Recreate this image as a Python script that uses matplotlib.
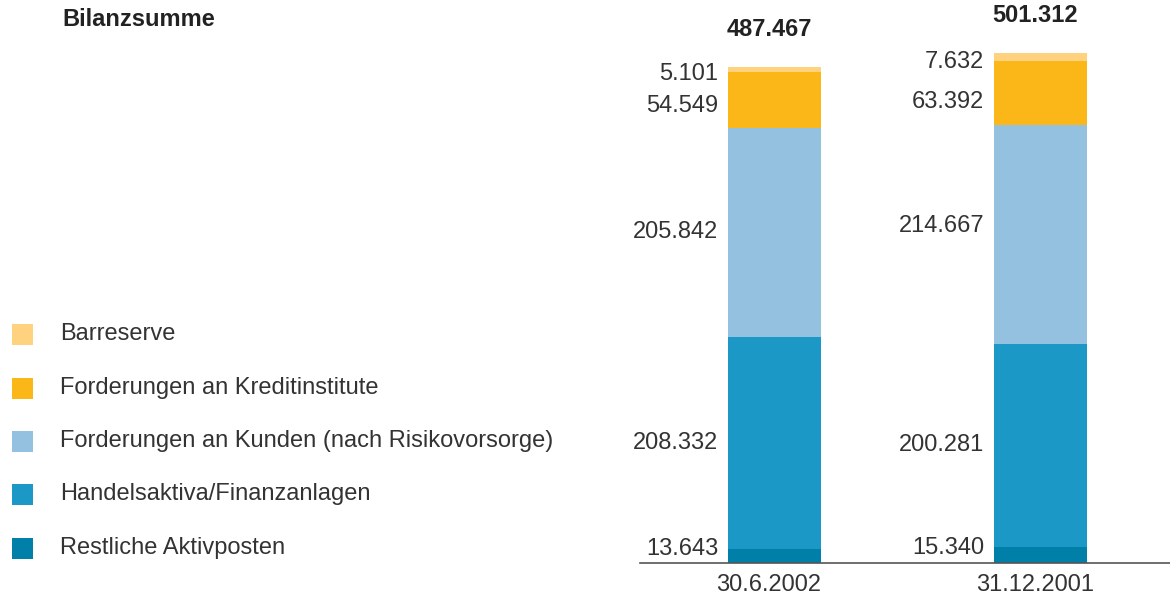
import numpy as np
import matplotlib
matplotlib.use("Agg")
import matplotlib.pyplot as plt
from matplotlib.patches import Rectangle

plt.rcParams['font.family'] = ['Liberation Sans', 'DejaVu Sans']

# values in Mrd. (shown with German thousands separator)
dates = ["30.6.2002", "31.12.2001"]
restliche = [13.643, 15.340]
handels = [208.332, 200.281]
kunden = [205.842, 214.667]
kredit = [54.549, 63.392]
barreserve = [5.101, 7.632]
totals = [487.467, 501.312]

labels = ["Restliche Aktivposten", "Handelsaktiva/Finanzanlagen",
          "Forderungen an Kunden (nach Risikovorsorge)",
          "Forderungen an Kreditinstitute", "Barreserve"]
colors = ["#0080a9", "#1b98c5", "#95c1e0", "#fbb717", "#fed27f"]
series = [restliche, handels, kunden, kredit, barreserve]

# label nudges in pixels (down is negative), per segment and bar
nudge = {(0, 0): 7, (0, 1): 7, (3, 0): -6, (3, 1): -9,
         (2, 1): 8, (4, 0): -4, (4, 1): -5}

W, H = 1170, 598
fig = plt.figure(figsize=(W / 100, H / 100), dpi=100)
TXT = "#333333"

# axes: x from 640px to 1170px, baseline at 563px, top at 0
ax = fig.add_axes([640 / W, (H - 563) / H, 530 / W, 563 / H])
px_per_unit = 496 / 487.467
ax.set_ylim(0, 563 / px_per_unit)
ax.set_xlim(-134.5 / 266, (1170 - 774.5) / 266)
ax.axis("off")
ax.axhline(0, color="#555555", lw=1.2, clip_on=False)

x = np.arange(len(dates))
bar_w = 93 / 266
bottom = np.zeros(len(dates))
for k, (vals, col) in enumerate(zip(series, colors)):
    vals = np.array(vals)
    ax.bar(x, vals, bar_w, bottom=bottom, color=col, linewidth=0)
    for i in range(len(dates)):
        ymid = bottom[i] + vals[i] / 2
        dy = nudge.get((k, i), 0) * 0.72
        ax.annotate(f"{vals[i]:.3f}", (x[i] - bar_w / 2, ymid),
                    xytext=(-7, dy), textcoords="offset points",
                    ha="right", va="center", fontsize=17, color=TXT)
    bottom = bottom + vals

for i in range(len(dates)):
    ax.annotate(f"{totals[i]:.3f}", (x[i], bottom[i]), xytext=(-4, 27),
                textcoords="offset points", ha="center", va="center",
                fontsize=17, fontweight="bold", color="#222222")
    ax.annotate(dates[i], (x[i], 0), xytext=(-4, -16), textcoords="offset points",
                ha="center", va="center", fontsize=17, color=TXT)

# title and legend on the left
fig.text(62 / W, 1 - 20 / H, "Bilanzsumme", fontsize=17, fontweight="bold",
         color="#222222", ha="left", va="center")

leg_y = [548, 494, 441, 388, 334]
for lab, col, yy in zip(labels, colors, leg_y):
    fig.add_artist(Rectangle((12 / W, 1 - (yy + 10.5) / H), 21 / W, 21 / H,
                             transform=fig.transFigure, color=col, lw=0))
    fig.text(60 / W, 1 - yy / H, lab, fontsize=17, color=TXT,
             ha="left", va="center")

fig.savefig("out.png", dpi=100)
